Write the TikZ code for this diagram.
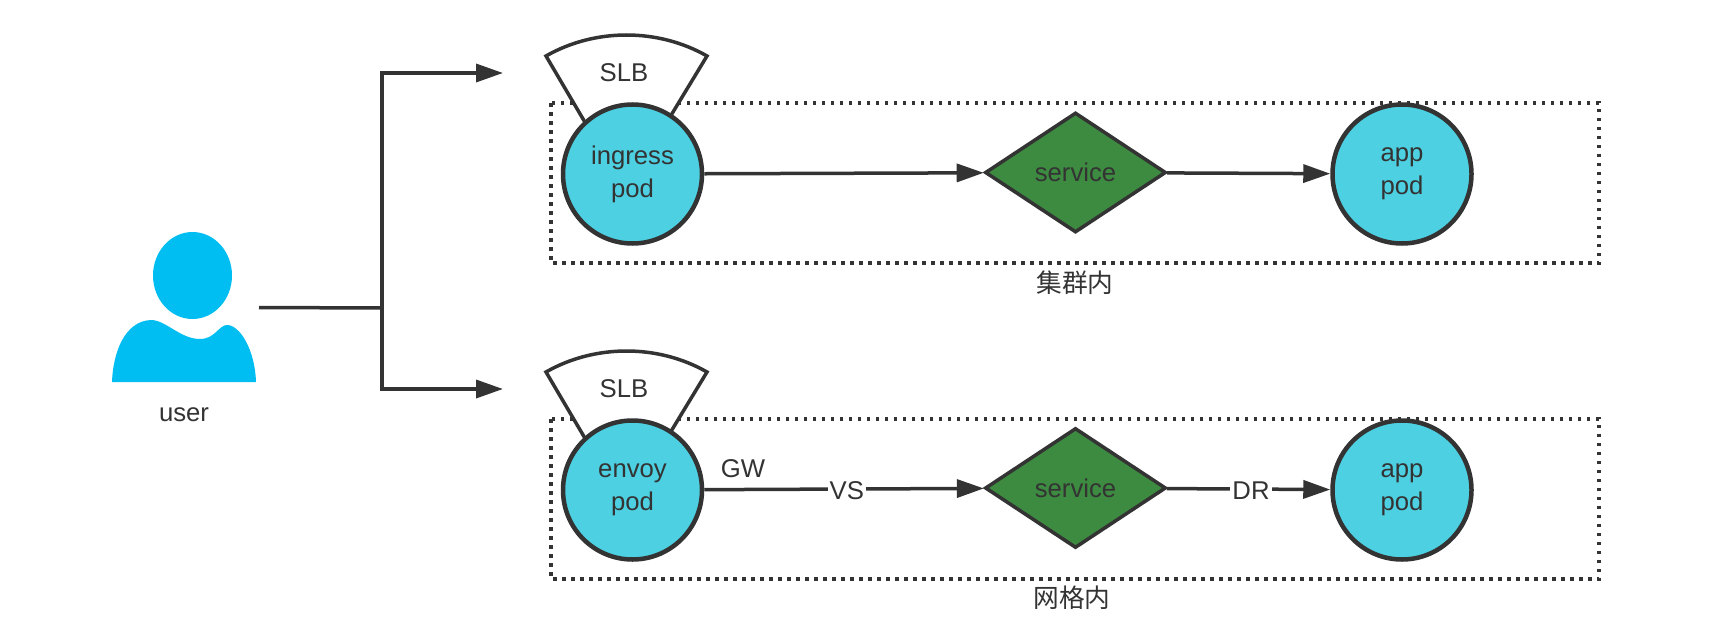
\documentclass[tikz,border=0pt]{standalone}
\usepackage{fontspec}
\setmainfont{Liberation Sans}
\newfontfamily\cjk{Noto Sans CJK SC}
\usetikzlibrary{arrows.meta,shapes.geometric}
\definecolor{ink}{HTML}{333333}
\definecolor{podfill}{HTML}{4DD0E1}
\definecolor{svcfill}{HTML}{3D8B40}
\definecolor{person}{HTML}{00BEF2}
\tikzset{
  x=1pt,y=-1pt,
  every node/.style={font=\fontsize{25.7}{33}\selectfont,text=ink},
  pod/.style={circle,draw=ink,fill=podfill,line width=4.5pt,minimum size=139pt,inner sep=0pt,align=center},
  svc/.style={diamond,draw=ink,fill=svcfill,line width=3.5pt,minimum width=181pt,minimum height=120pt,inner sep=0pt},
  link/.style={draw=ink,line width=3.5pt,-{Triangle[length=27pt,width=18pt]}},
  frame/.style={draw=ink,line width=3.5pt,dash pattern=on 3.5pt off 5.5pt},
  slb/.style={draw=ink,line width=3.5pt,fill=white,line join=miter},
  edgetext/.style={fill=white,inner sep=2pt,yshift=-1.5pt}
}
\begin{document}
\begin{tikzpicture}
\useasboundingbox (0,0) rectangle (1710,642);
% person
\node[ellipse,fill=person,minimum width=79pt,minimum height=87pt,inner sep=0pt] (head) at (192.5,275.5) {};
\fill[person] (112,382) .. controls (113,352) and (125,321) .. (151,320) .. controls (166,320) and (180,339) .. (200,339) .. controls (215,339) and (219,325) .. (227,325) .. controls (240,325) and (255,350) .. (256,382) -- cycle;
\node (user) at (184,415) {user};
\coordinate (userout) at (259,307.5);
\coordinate (junction) at (382,308);
\coordinate (upa) at (503,73);
\coordinate (upb) at (503,389);
\draw[draw=ink,line width=3.5pt] (userout) -- (junction);
\draw[link] (junction) |- (upa);
\draw[link] (junction) |- (upb);
% frames
\draw[frame] (551,103) rectangle (1599,263);
\draw[frame] (551,419) rectangle (1599,579);
\node (t1) at (1075,283) {\cjk 集群内};
\node (t2) at (1072,598) {\cjk 网格内};
% top row
\draw[slb] (586,124) -- (546,56) .. controls (595,28) and (658,28) .. (707,56) -- (670,117);
\node (slba) at (624,73) {SLB};
\node[pod] (ingress) at (632.5,174) {ingress\\pod};
\node[svc] (svca) at (1075.5,172.5) {service};
\node[pod] (appa) at (1402,174) {app\\pod};
\draw[link] (ingress) -- (svca);
\draw[link] (svca) -- (appa);
% bottom row
\draw[slb] (586,440) -- (546,372) .. controls (595,344) and (658,344) .. (707,372) -- (670,433);
\node (slbb) at (624,389) {SLB};
\node[pod] (envoy) at (632.5,490) {envoy\\pod};
\node[svc] (svcb) at (1075.5,488) {service};
\node[pod] (appb) at (1402,490) {app\\pod};
\draw[link] (envoy) -- node[edgetext,pos=0.51] (vs) {VS} (svcb);
\draw[link] (svcb) -- node[edgetext,pos=0.515] (dr) {DR} (appb);
\node (gw) at (743,469) {GW};
\end{tikzpicture}
\end{document}
